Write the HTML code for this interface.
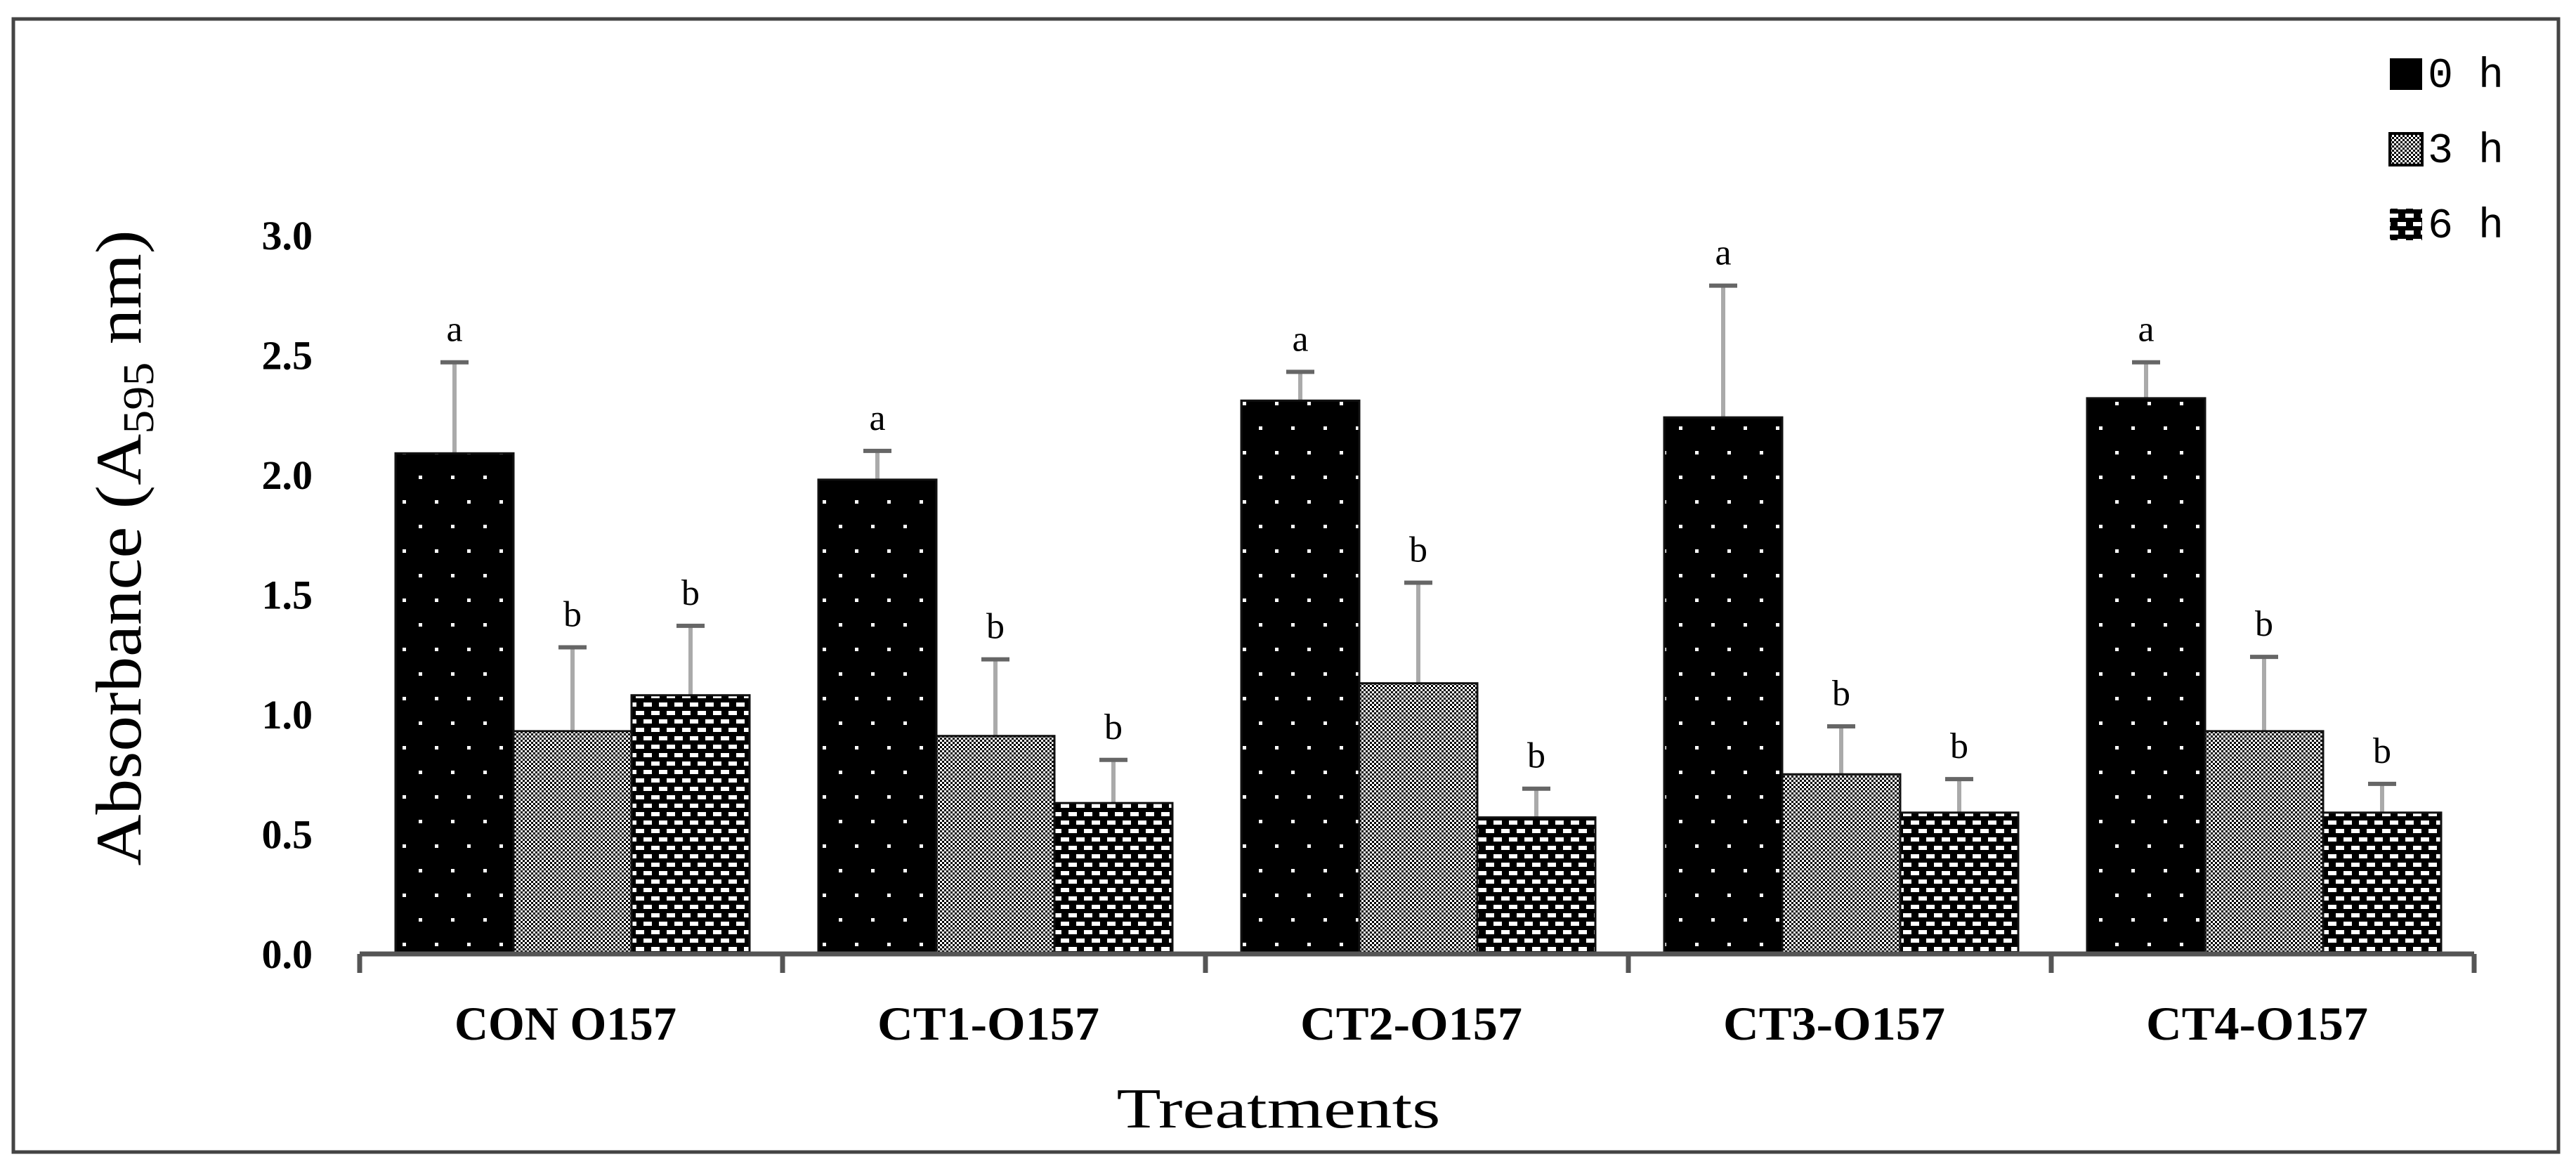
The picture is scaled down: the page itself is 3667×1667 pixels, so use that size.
<!DOCTYPE html>
<html><head><meta charset="utf-8"><style>
html,body{margin:0;padding:0;background:#fff;}
svg{display:block;}
</style></head><body>
<svg id="chart" width="3667" height="1667" viewBox="0 0 3667 1667" xmlns="http://www.w3.org/2000/svg">
<defs>
<pattern id="p0" patternUnits="userSpaceOnUse" width="46" height="70" x="563" y="0">
<rect width="46" height="70" fill="#000"/>
<rect x="10" y="12" width="5" height="5" fill="#fff"/>
<rect x="33" y="47" width="5" height="5" fill="#fff"/>
</pattern>
<pattern id="p3" patternUnits="userSpaceOnUse" width="6" height="6">
<rect width="6" height="6" fill="#fff"/>
<rect width="3" height="3" fill="#000"/>
<rect x="3" y="3" width="3" height="3" fill="#000"/>
</pattern>
<pattern id="p6" patternUnits="userSpaceOnUse" width="22" height="24">
<rect width="22" height="24" fill="#000"/>
<rect x="3" y="4" width="12" height="6" fill="#fff"/>
<rect x="14" y="16" width="12" height="6" fill="#fff"/>
<rect x="-8" y="16" width="12" height="6" fill="#fff"/>
</pattern>
</defs>
<rect x="19" y="27" width="3623" height="1613" fill="#fff" stroke="#444" stroke-width="5"/>
<g id="plot"></g>
<text transform="translate(200,780) rotate(-90)" text-anchor="middle" font-family="Liberation Serif, serif" font-size="92" textLength="905" lengthAdjust="spacingAndGlyphs">Absorbance (A<tspan font-size="62" dy="18">595</tspan><tspan dy="-18"> nm)</tspan></text>
<text x="1820" y="1605" text-anchor="middle" font-family="Liberation Serif, serif" font-size="80" textLength="461" lengthAdjust="spacingAndGlyphs">Treatments</text>
<g font-family="Liberation Mono, monospace" font-size="60">
<rect x="3402" y="83" width="46" height="45" fill="#000"/>
<text x="3456" y="124">0 h</text>
<rect x="3402" y="190" width="46" height="45" fill="url(#p3)" stroke="#000" stroke-width="4"/>
<text x="3456" y="231">3 h</text>
<rect x="3402" y="297" width="46" height="45" fill="url(#p6)"/>
<text x="3456" y="338">6 h</text>
</g>
</svg>
<script>
const categories = ["CON O157", "CT1-O157", "CT2-O157", "CT3-O157", "CT4-O157"];
const series = ["0 h", "3 h", "6 h"];
const values0h = [2.09, 1.98, 2.31, 2.24, 2.32];
const values3h = [0.93, 0.91, 1.13, 0.75, 0.93];
const values6h = [1.08, 0.63, 0.57, 0.59, 0.59];
const err0h = [0.38, 0.12, 0.12, 0.55, 0.15];
const err3h = [0.35, 0.32, 0.42, 0.20, 0.31];
const err6h = [0.29, 0.18, 0.12, 0.14, 0.12];
const letters0h = ["a", "a", "a", "a", "a"];
const letters3h = ["b", "b", "b", "b", "b"];
const letters6h = ["b", "b", "b", "b", "b"];
const yTicks = [0, 0.5, 1.0, 1.5, 2.0, 2.5, 3.0];
const yTickLabels = ["0.0", "0.5", "1.0", "1.5", "2.0", "2.5", "3.0"];

const NS = "http://www.w3.org/2000/svg";
const plot = document.getElementById("plot");
const X0 = 512, GW = 602, BW = 168, PAD = 51;
const Y0 = 1358, PPU = 341;
function yScale(v){ return Y0 - v * PPU; }
function xGroup(i){ return X0 + i * GW; }
function xBar(i, s){ return xGroup(i) + PAD + s * BW; }
function mk(tag, attrs){ const e = document.createElementNS(NS, tag); for (const k in attrs) e.setAttribute(k, attrs[k]); plot.appendChild(e); return e; }

const vals = [values0h, values3h, values6h];
const errs = [err0h, err3h, err6h];
const lets = [letters0h, letters3h, letters6h];
const fills = ["url(#p0)", "url(#p3)", "url(#p6)"];

yTicks.forEach((t, k) => {
  const tx = mk("text", {x: 445, y: yScale(t) + 20, "text-anchor": "end", "font-family": "Liberation Serif, serif", "font-weight": "bold", "font-size": 58});
  
  
  tx.textContent = yTickLabels[k];
});

categories.forEach((c, i) => {
  for (let s = 0; s < 3; s++) {
    const v = vals[s][i], e = errs[s][i];
    const cx = xBar(i, s) + BW / 2;
    const el = mk("line", {x1: cx, x2: cx, y1: yScale(v), y2: yScale(v + e), stroke: "#aaa", "stroke-width": 6});
    
    
    const cap = mk("line", {x1: cx - 20, x2: cx + 20, y1: yScale(v + e), y2: yScale(v + e), stroke: "#666", "stroke-width": 6});
    
    
    const r = mk("rect", {x: xBar(i, s), y: yScale(v), width: BW, height: v * PPU, fill: fills[s], stroke: "#111", "stroke-width": 3});
    
    
    const lt = mk("text", {x: cx, y: yScale(v + e) - 30, "text-anchor": "middle", "font-family": "Liberation Serif, serif", "font-size": 52});
    
    
    lt.textContent = lets[s][i];
  }
  const cl = mk("text", {x: xGroup(i) + GW / 2 - 8, y: 1480, "text-anchor": "middle", "font-family": "Liberation Serif, serif", "font-weight": "bold", "font-size": 68, textLength: 316, lengthAdjust: "spacingAndGlyphs"});
  
  
  cl.textContent = c;
});

const ax = mk("line", {x1: X0, x2: X0 + categories.length * GW, y1: Y0, y2: Y0, stroke: "#555", "stroke-width": 7});


for (let i = 0; i <= categories.length; i++) {
  const tk = mk("line", {x1: xGroup(i), x2: xGroup(i), y1: Y0, y2: Y0 + 27, stroke: "#555", "stroke-width": 7});
  
  
}
</script>
</body></html>
